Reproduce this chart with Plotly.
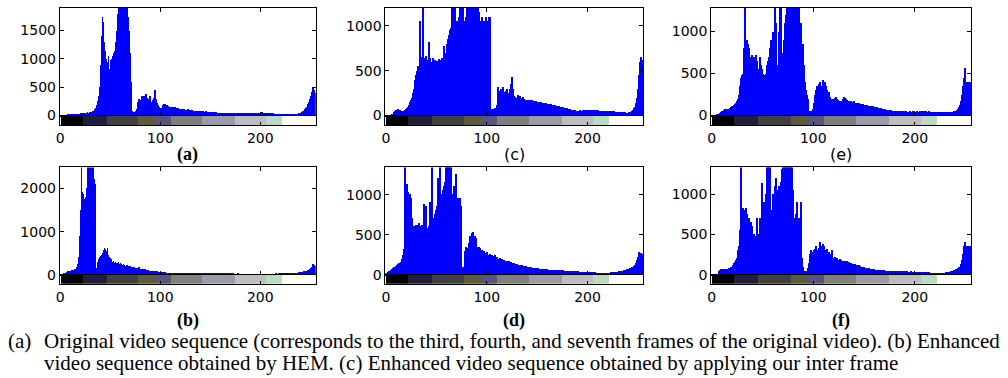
import plotly.graph_objects as go

W, H = 1008, 378

# ---------------- data (histogram counts per gray level 0..255) ----------------
hist_a = [
0,2,3,5,6,8,10,12,14,16,18,20,22,24,25,28,
30,32,35,38,40,45,48,50,55,45,50,60,55,58,62,70,
80,90,110,140,180,260,350,500,900,1400,1750,1650,1300,1150,1000,950,
1050,820,980,1000,1050,1100,1150,1300,1500,1800,1950,2000,2000,2000,2000,2000,
2000,2000,2000,2000,1750,1500,1100,600,80,60,55,70,80,120,250,300,
220,280,350,260,340,300,380,320,200,300,340,250,200,280,320,450,
300,220,180,160,140,110,130,180,200,210,180,190,170,160,150,140,
160,150,130,150,140,120,130,110,125,115,120,100,110,105,100,95,
110,100,90,100,95,85,90,85,80,90,75,80,85,70,75,80,
70,65,75,60,70,65,60,55,65,60,58,55,60,50,55,50,
55,50,52,48,55,50,45,52,48,50,55,45,50,48,52,45,
50,48,45,50,55,48,52,45,50,55,48,45,50,52,45,48,
50,45,48,52,55,50,48,52,55,58,60,55,50,52,48,45,
48,45,40,42,38,40,35,38,32,30,32,28,30,28,25,28,
25,26,24,22,25,23,22,24,22,25,28,26,30,32,35,40,
45,50,60,75,90,110,130,160,200,250,300,350,420,500,460,400]

hist_b = [
0,5,10,20,30,50,70,80,85,90,95,100,100,110,120,140,
180,250,400,900,1500,2600,1900,1850,1750,1800,2000,2600,2600,2600,2600,2600,
2600,2600,2200,2100,150,300,350,400,420,450,500,560,620,600,550,610,
450,400,380,350,300,320,280,300,260,280,300,250,270,240,230,250,
220,210,200,220,190,180,200,170,180,160,170,150,160,150,140,180,
130,140,120,130,110,120,100,110,100,90,95,85,90,80,75,80,
70,75,65,70,60,65,55,60,50,55,50,48,45,50,42,45,
40,42,38,40,36,38,35,34,32,35,30,32,30,28,30,28,
27,28,26,25,27,24,25,23,24,22,25,22,23,21,22,20,
22,20,21,19,20,21,18,20,19,18,20,17,19,18,17,18,
17,18,16,17,18,16,17,15,16,17,15,16,15,16,14,15,
15,14,16,15,14,15,13,15,14,13,15,14,13,14,13,14,
13,14,12,14,13,12,14,13,12,13,12,14,13,12,13,12,
14,12,13,15,12,14,13,15,16,14,15,17,16,18,17,19,
20,22,21,24,25,28,30,32,35,38,40,45,42,48,50,55,
60,58,65,70,75,80,85,95,100,110,120,150,180,250,220,200]

hist_c = [
0,0,1,2,3,5,8,10,40,55,60,65,70,62,58,55,
50,52,55,60,70,80,100,120,150,180,200,250,300,400,450,500,
550,500,1050,600,650,1300,620,640,660,600,620,820,640,600,580,640,
600,620,590,610,600,630,600,620,640,580,780,700,450,800,850,900,
950,980,1300,1300,1300,1300,1000,1050,450,1100,1300,1300,1300,1300,500,1050,
1100,1300,1300,1300,1300,1300,1300,1300,1300,1300,1300,1300,1300,1150,1050,600,
1100,950,1050,1000,1100,500,1050,1100,1100,70,65,70,75,80,90,120,
320,280,250,300,270,320,260,240,280,300,250,230,300,350,430,300,
220,210,200,230,210,220,200,190,210,190,180,170,180,160,175,170,
160,170,155,165,150,160,150,145,155,140,150,140,135,145,130,140,
130,125,135,120,125,115,120,110,115,105,110,100,105,95,100,90,
95,90,85,88,80,75,70,72,65,60,62,55,58,55,52,55,
55,58,52,55,60,58,55,60,62,58,55,60,58,55,60,62,
58,55,60,58,55,52,55,50,52,55,50,52,48,50,48,52,
48,50,45,48,45,42,45,40,42,38,40,38,36,35,38,34,
32,35,38,40,45,50,60,80,100,140,200,300,450,600,650,620]

hist_d = [
10,20,30,40,50,60,70,80,90,100,110,120,130,140,150,160,
200,250,320,1500,500,1130,1030,1000,1000,950,700,600,520,600,620,550,
620,640,580,600,620,580,880,600,850,560,580,600,900,620,1500,620,
700,750,800,850,1200,900,1350,950,1000,1050,1100,1150,1500,1500,1500,1500,
1500,1500,1000,950,1100,1000,1250,950,900,950,950,850,80,90,85,300,
350,330,310,400,480,450,520,530,450,480,460,350,320,340,330,300,
310,280,300,270,260,280,250,240,260,230,250,220,230,240,210,220,
200,190,210,180,190,170,180,175,165,170,160,165,150,160,145,150,
140,135,130,120,125,115,110,115,105,110,100,105,95,100,90,95,
90,85,88,80,82,78,75,78,72,75,70,72,68,70,65,68,
65,62,64,60,62,58,60,56,58,55,57,53,55,52,54,50,
52,50,48,50,46,48,45,47,44,46,42,44,40,42,38,40,
38,36,38,35,36,33,35,32,33,30,32,30,28,30,28,27,
28,26,27,25,26,24,25,23,24,25,26,25,24,26,25,27,
28,30,32,30,34,32,36,38,40,42,45,48,50,55,58,60,
65,70,75,80,85,90,100,110,120,150,180,220,280,250,270,260]

hist_e = [
0,1,2,5,8,12,18,25,35,45,55,60,70,75,80,85,
70,80,90,100,110,120,130,140,150,170,200,250,350,450,480,500,
800,1400,320,900,850,800,650,700,720,700,600,700,720,650,500,550,
700,600,550,500,480,450,500,600,650,700,800,900,650,1000,900,1400,
1100,600,1000,1400,1400,750,700,900,1100,1200,1300,1400,1400,1400,1400,1400,
1400,1400,1400,1400,1400,1400,1400,800,1100,700,850,600,400,300,250,200,
60,50,45,60,80,150,250,300,350,300,380,400,300,350,420,380,
400,350,300,250,280,220,200,180,200,190,210,220,200,190,180,170,
180,200,220,210,200,190,180,170,160,180,150,160,170,140,150,145,
140,150,130,140,125,135,120,130,115,125,110,120,105,115,100,110,
100,105,95,100,90,95,85,90,80,85,75,80,70,72,65,68,
60,62,58,60,55,58,52,55,50,52,55,50,48,52,50,48,
50,48,45,50,48,45,50,52,48,45,50,48,45,50,48,52,
50,48,52,50,48,45,50,47,45,48,45,42,45,40,42,45,
40,42,45,40,42,38,40,42,38,40,42,45,40,45,48,50,
55,60,70,80,100,130,180,250,350,450,570,400,400,400,400,400]

hist_f = [
0,0,1,2,3,5,8,40,60,70,65,60,70,65,70,75,
70,80,75,90,100,120,140,160,180,200,300,350,550,1500,300,820,
780,800,820,750,600,700,500,650,600,480,500,480,450,700,500,480,
700,600,1130,700,900,850,1000,1500,1500,1500,1500,800,700,1000,900,1100,
1200,1050,1100,1000,1150,1300,1500,1500,1500,1500,1500,1500,1500,1500,1500,1500,
1050,650,700,750,900,650,700,600,900,200,100,50,40,30,50,80,
150,250,300,280,270,300,320,350,300,280,330,400,350,300,380,350,
300,250,320,200,280,250,230,300,210,200,220,190,200,180,170,190,
180,170,160,175,150,165,140,155,130,145,125,135,120,130,115,120,
110,115,105,100,95,100,90,88,85,80,82,78,75,72,70,68,
65,62,60,58,60,55,58,52,55,50,52,48,50,46,48,45,
46,44,45,42,44,40,42,40,38,40,42,38,40,38,42,40,
38,40,36,38,40,35,38,36,35,38,36,34,35,32,34,30,
32,30,28,30,28,26,28,25,26,24,25,23,24,22,23,22,
22,24,23,25,24,26,25,28,30,32,35,38,40,45,50,55,
60,65,70,80,90,100,130,180,250,350,400,350,350,350,350,350]

gray_levels = list(range(256))
panel_labels = ["(a)", "(c)", "(e)", "(b)", "(d)", "(f)"]
y_max = [1900, 1200, 1280, 2480, 1340, 1330]
y_ticks = [[0, 500, 1000, 1500], [0, 500, 1000], [0, 500, 1000],
           [0, 1000, 2000], [0, 500, 1000], [0, 500, 1000]]
x_ticks = [0, 100, 200]

# quantised gray-level colour bar under each histogram
bar_edges = [0, 22.5, 46, 78, 94.5, 111, 142, 175, 206, 222, 251, 255.5]
bar_colors = ["#000000", "#1f1f3b", "#404040", "#5d5b3c", "#56567a", "#7f7f7f",
              "#9b9ba7", "#bdbdbd", "#b9dcc1", "#fffff2", "#ffffff"]

caption_tag = "(a)"
caption_lines = [
    "Original video sequence (corresponds to the third, fourth, and seventh frames of the original video). (b) Enhanced",
    "video sequence obtained by HEM. (c) Enhanced video sequence obtained by applying our inter frame",
]

hists = [hist_a, hist_c, hist_e, hist_b, hist_d, hist_f]

# ---------------- layout geometry (pixels) ----------------
col_px = [(56, 313), (383, 642), (710, 971)]
row_px = [(8, 118, 128, 158), (171, 281, 290, 327)]  # top, baseline, bar bottom, label y


def px_x(v):
    return v / W


def px_y(v):
    return 1 - v / H


fig = go.Figure()
layout = dict(
    width=W, height=H, margin=dict(l=0, r=0, t=0, b=0),
    paper_bgcolor="white", plot_bgcolor="white", showlegend=False,
    bargap=0, annotations=[],
)

tickfont = dict(family="DejaVu Sans", size=14, color="black")
bar_centers = [(a + b) / 2 for a, b in zip(bar_edges[:-1], bar_edges[1:])]
bar_widths = [b - a for a, b in zip(bar_edges[:-1], bar_edges[1:])]

for i in range(6):
    r, c = divmod(i, 3)
    x0, x1 = col_px[c]
    top, base, cb_bot, lab_y = row_px[r]
    hx = i * 2 + 1
    cx = i * 2 + 2
    hs = "" if hx == 1 else str(hx)
    cs = str(cx)
    fig.add_trace(go.Bar(x=gray_levels, y=hists[i], width=1,
                         marker=dict(color="#0000ff", line=dict(width=0)),
                         xaxis="x" + hs, yaxis="y" + hs))
    fig.add_trace(go.Bar(x=bar_centers, y=[1] * len(bar_centers), width=bar_widths,
                         marker=dict(color=bar_colors, line=dict(width=0)),
                         xaxis="x" + cs, yaxis="y" + cs))
    dom_x = [px_x(x0), px_x(x1)]
    layout["xaxis" + hs] = dict(
        domain=dom_x, anchor="y" + hs, range=[-0.5, 255.5], tickvals=x_ticks,
        showticklabels=False, ticks="inside", ticklen=4, tickcolor="black",
        showline=True, linecolor="black", linewidth=1, mirror="ticks",
        showgrid=False, zeroline=False, fixedrange=True)
    layout["yaxis" + hs] = dict(
        domain=[px_y(base), px_y(top)], anchor="x" + hs, range=[0, y_max[i]],
        tickvals=y_ticks[i], ticks="inside", ticklen=4, tickcolor="black",
        tickfont=tickfont, showline=True, linecolor="black", linewidth=1,
        mirror="ticks", showgrid=False, zeroline=False, fixedrange=True)
    layout["xaxis" + cs] = dict(
        domain=dom_x, anchor="y" + cs, range=[-0.5, 255.5], tickvals=x_ticks,
        ticks="inside", ticklen=3, tickcolor="black", tickfont=tickfont,
        showline=True, linecolor="black", linewidth=1, mirror=True,
        showgrid=False, zeroline=False, fixedrange=True)
    layout["yaxis" + cs] = dict(
        domain=[px_y(cb_bot), px_y(base)], anchor="x" + cs, range=[0, 1],
        showticklabels=False, ticks="", showline=True, linecolor="black",
        linewidth=1, mirror=True, showgrid=False, zeroline=False, fixedrange=True)
    serif = panel_labels[i] not in ("(c)", "(e)")
    layout["annotations"].append(dict(
        text=panel_labels[i], xref="paper", yref="paper",
        x=px_x((x0 + x1) / 2), y=px_y(lab_y), xanchor="center", yanchor="middle",
        showarrow=False,
        font=dict(family="Liberation Serif" if serif else "DejaVu Sans",
                  size=18 if serif else 16, color="black",
                  weight="bold" if serif else "normal")))

cap_font = dict(family="Liberation Serif", size=21, color="black")
layout["annotations"].append(dict(
    text=caption_tag, xref="paper", yref="paper", x=px_x(2), y=px_y(348),
    xanchor="left", yanchor="middle", showarrow=False, font=cap_font))
for k, line in enumerate(caption_lines):
    layout["annotations"].append(dict(
        text=line, xref="paper", yref="paper", x=px_x(38), y=px_y(348 + 23 * k),
        xanchor="left", yanchor="middle", showarrow=False, font=cap_font))

fig.update_layout(**layout)
fig.write_html("out.html", config={"displayModeBar": False},
               post_script="document.body.style.margin='0';document.body.style.overflow='hidden';")
